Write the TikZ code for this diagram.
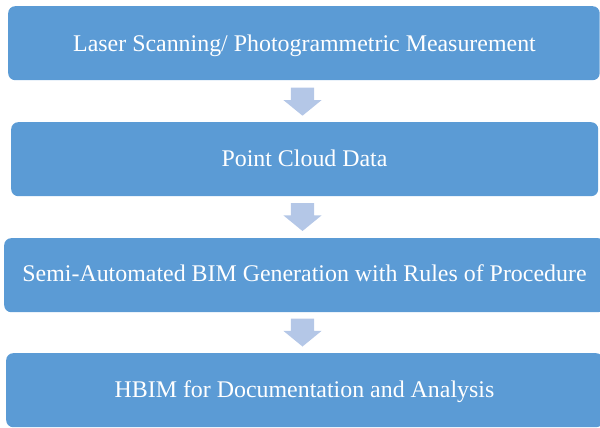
\documentclass[tikz,border=0pt]{standalone}
\usepackage{fontspec}
\setmainfont{Liberation Serif}
\definecolor{boxblue}{HTML}{5B9BD5}
\definecolor{arrowblue}{HTML}{B4C7E7}
\begin{document}
\begin{tikzpicture}[x=1pt,y=-1pt,
  box/.style={fill=boxblue, rounded corners=7pt, draw=none, inner sep=0pt, minimum height=74pt, anchor=north west},
  lbl/.style={text=white, font=\fontsize{23.9}{28}\selectfont, anchor=base, inner sep=0pt},
  blockarrow/.style={fill=arrowblue}]
\path[use as bounding box] (0,0) rectangle (600,428);
\clip (0,0) rectangle (600,428);
\node[box, minimum width=591.5pt] (b1) at (8,6) {};
\node[box, minimum width=587pt] (b2) at (11,122) {};
\node[box, minimum width=601pt] (b3) at (4,238) {};
\node[box, minimum width=597pt] (b4) at (6,353) {};
\node[lbl] (t1) at (304.5,51.5) {Laser Scanning/ Photogrammetric Measurement};
\node[lbl] (t2) at (304.5,166.5) {Point Cloud Data};
\node[lbl] (t3) at (304.5,281.5) {Semi-Automated BIM Generation with Rules of Procedure};
\node[lbl] (t4) at (304.5,397.2) {HBIM for Documentation and Analysis};
\foreach \t in {87.7,203,318.5}{
  \fill[blockarrow] (290.8,\t) -- (314.2,\t) -- (314.2,\t+12.3) -- (321.7,\t+12.3)
    -- (302.5,\t+28) -- (283.3,\t+12.3) -- (290.8,\t+12.3) -- cycle;
}
\end{tikzpicture}
\end{document}
